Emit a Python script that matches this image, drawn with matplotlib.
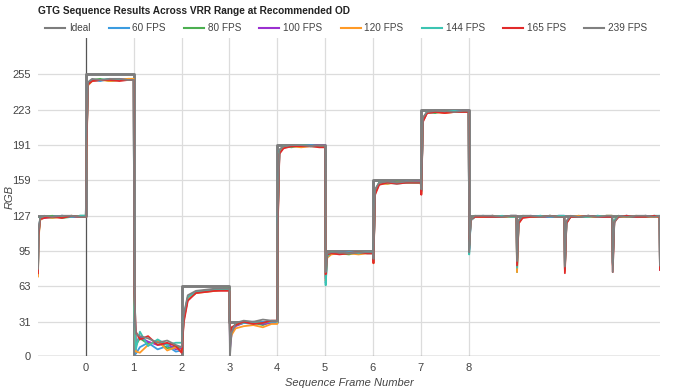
import matplotlib
matplotlib.use("Agg")
import matplotlib.pyplot as plt
import numpy as np

plt.rcParams['font.family'] = ['Liberation Sans', 'DejaVu Sans']

# frame boundaries and sample offsets inside each frame
frames = list(range(-1, 12))
offsets = [0.0, 0.012, 0.045, 0.13, 0.3, 0.5, 0.7, 0.88]
end_x = [11.99, 11.999]

ideal_levels = [127, 255, 0, 63, 31, 191, 95, 159, 223, 127, 127, 127, 127]
ideal_edges = list(range(-1, 13))

labels = ["60 FPS", "80 FPS", "100 FPS", "120 FPS", "144 FPS", "165 FPS", "239 FPS"]
colors = ["#3b9ce0", "#4caf50", "#9b30d0", "#ff9a26", "#3cc4b2", "#e12a2a", "#808080"]

s60 = [
    [74, 108, 124, 126, 125, 127, 126, 127],
    [127, 192, 247, 250, 249, 251, 250, 250],
    [250, 40, 2, 8, 12, 6, 9, 4],
    [5, 9, 36, 53, 58, 59, 60, 60],
    [60, 14, 23, 28, 30, 29, 31, 30],
    [30, 128, 186, 189, 190, 190, 191, 190],
    [190, 66, 90, 93, 94, 93, 93, 94],
    [93, 86, 150, 156, 157, 157, 158, 157],
    [157, 149, 214, 220, 221, 221, 222, 221],
    [221, 96, 123, 126, 127, 126, 126, 127],
    [127, 84, 122, 126, 126, 127, 126, 126],
    [126, 78, 121, 126, 127, 126, 127, 126],
    [126, 84, 123, 126, 127, 126, 126, 127],
]
s60_end = [126, 80]

s80 = [
    [76, 110, 125, 126, 127, 125, 126, 127],
    [127, 188, 246, 250, 251, 249, 250, 251],
    [251, 50, 10, 16, 11, 13, 7, 9],
    [6, 10, 34, 52, 57, 59, 59, 61],
    [61, 16, 24, 29, 31, 30, 28, 31],
    [31, 125, 185, 190, 189, 191, 190, 190],
    [190, 72, 91, 94, 93, 92, 94, 93],
    [93, 87, 149, 157, 156, 158, 157, 157],
    [157, 150, 215, 221, 220, 222, 221, 221],
    [221, 98, 124, 127, 126, 127, 126, 126],
    [126, 76, 121, 127, 126, 126, 127, 126],
    [126, 80, 122, 126, 126, 127, 126, 127],
    [127, 85, 123, 127, 126, 126, 127, 126],
]
s80_end = [126, 79]

s100 = [
    [78, 112, 124, 125, 126, 127, 126, 126],
    [126, 185, 246, 249, 250, 250, 251, 250],
    [250, 55, 12, 17, 13, 10, 11, 6],
    [7, 8, 33, 51, 58, 58, 60, 60],
    [60, 6, 20, 27, 30, 31, 29, 30],
    [30, 122, 184, 189, 190, 190, 190, 191],
    [191, 70, 90, 93, 93, 94, 93, 93],
    [93, 86, 148, 156, 157, 157, 157, 158],
    [158, 149, 213, 220, 221, 221, 221, 222],
    [222, 97, 123, 126, 126, 127, 126, 126],
    [126, 80, 121, 126, 127, 126, 126, 127],
    [127, 79, 122, 126, 126, 127, 126, 126],
    [126, 83, 122, 126, 127, 126, 127, 126],
]
s100_end = [126, 78]

s120 = [
    [72, 106, 123, 126, 125, 126, 127, 126],
    [126, 180, 245, 249, 250, 249, 250, 251],
    [251, 45, 4, 3, 10, 14, 5, 8],
    [4, 8, 32, 52, 57, 58, 59, 60],
    [60, 12, 19, 25, 27, 28, 26, 29],
    [29, 120, 184, 189, 190, 189, 190, 190],
    [190, 68, 89, 92, 93, 93, 92, 93],
    [93, 84, 147, 156, 156, 157, 157, 157],
    [157, 147, 213, 220, 221, 220, 221, 221],
    [221, 99, 123, 126, 126, 127, 126, 126],
    [126, 76, 120, 126, 126, 126, 127, 126],
    [126, 77, 121, 126, 127, 126, 126, 127],
    [127, 82, 122, 126, 126, 127, 126, 126],
]
s120_end = [126, 79]

s144 = [
    [77, 111, 125, 126, 126, 127, 126, 127],
    [127, 190, 247, 250, 250, 251, 250, 250],
    [250, 42, 6, 22, 9, 15, 10, 12],
    [12, 11, 35, 53, 58, 59, 60, 60],
    [60, 15, 24, 28, 30, 31, 30, 31],
    [31, 127, 186, 190, 190, 191, 190, 190],
    [190, 64, 90, 94, 93, 94, 93, 94],
    [94, 87, 150, 157, 157, 156, 157, 157],
    [157, 150, 214, 221, 221, 221, 222, 221],
    [221, 92, 123, 126, 127, 126, 127, 126],
    [126, 80, 122, 126, 126, 127, 126, 127],
    [127, 79, 121, 126, 126, 126, 127, 126],
    [126, 84, 123, 126, 127, 126, 126, 127],
]
s144_end = [127, 80]

s165 = [
    [75, 109, 124, 125, 126, 125, 127, 126],
    [126, 186, 246, 249, 250, 250, 249, 250],
    [250, 58, 22, 15, 18, 10, 12, 9],
    [3, 7, 30, 50, 57, 58, 59, 59],
    [59, 18, 26, 28, 31, 29, 30, 32],
    [32, 118, 183, 188, 190, 190, 190, 189],
    [189, 74, 92, 93, 92, 93, 94, 93],
    [93, 84, 146, 155, 157, 156, 157, 157],
    [157, 146, 212, 220, 221, 220, 221, 221],
    [221, 100, 124, 126, 126, 126, 126, 127],
    [127, 82, 120, 125, 126, 126, 127, 126],
    [126, 75, 120, 126, 126, 127, 126, 126],
    [126, 76, 121, 126, 127, 126, 126, 127],
]
s165_end = [126, 78]

s239 = [
    [79, 113, 125, 127, 126, 127, 127, 126],
    [126, 195, 248, 251, 250, 251, 251, 250],
    [250, 62, 20, 18, 16, 12, 14, 10],
    [8, 12, 37, 55, 59, 60, 61, 61],
    [61, 0, 21, 30, 32, 31, 33, 32],
    [32, 132, 187, 190, 191, 191, 190, 191],
    [191, 76, 93, 94, 94, 93, 94, 94],
    [94, 88, 151, 157, 158, 157, 158, 158],
    [158, 151, 216, 221, 222, 222, 221, 222],
    [222, 94, 124, 127, 127, 127, 126, 127],
    [127, 86, 123, 127, 127, 126, 127, 126],
    [126, 81, 122, 127, 126, 127, 126, 127],
    [127, 76, 121, 127, 126, 127, 127, 126],
]
s239_end = [127, 82]

series = [(s60, s60_end), (s80, s80_end), (s100, s100_end), (s120, s120_end),
          (s144, s144_end), (s165, s165_end), (s239, s239_end)]

x = np.concatenate([f + np.array(offsets) for f in frames] + [np.array(end_x)])

fig = plt.figure(figsize=(6.75, 3.9), dpi=100)
ax = fig.add_axes([38 / 675, 1 - 356 / 390, 622 / 675, 318 / 390])

grid_c = "#dcdcdc"
text_c = "#444444"

yticks = [0, 31, 63, 95, 127, 159, 191, 223, 255]
for yt in yticks[1:]:
    ax.axhline(yt, color=grid_c, lw=0.9, zorder=0)
for xt in range(1, 9):
    ax.axvline(xt, color=grid_c, lw=0.9, zorder=0)
ax.axvline(0, color="#555555", lw=0.9, zorder=1)
ax.axhline(0, color="#555555", lw=0.9, zorder=1)

ideal_line, = ax.step(ideal_edges, ideal_levels + [127], where="post",
                      color="#7d7d7d", lw=2.1, zorder=2, label="Ideal")

handles = [ideal_line]
for (rows, end), lab, c in zip(series, labels, colors):
    y = np.concatenate([np.ravel(rows), end])
    h, = ax.plot(x, y, color=c, lw=1.3, zorder=3, label=lab)
    handles.append(h)

ax.set_xlim(-1, 12)
ax.set_ylim(0, 288)
ax.set_xticks(range(0, 9))
ax.set_yticks(yticks)
ax.tick_params(length=0, labelsize=8, labelcolor=text_c, pad=5)
for s in ax.spines.values():
    s.set_visible(False)

ax.set_xlabel("Sequence Frame Number", fontsize=8, style="italic", color=text_c, labelpad=4)
ax.set_ylabel("RGB", fontsize=8, style="italic", color=text_c)
ax.yaxis.set_label_coords(-0.038, 0.5)

fig.text(38 / 675, 1 - 11 / 390, "GTG Sequence Results Across VRR Range at Recommended OD",
         fontsize=7.3, fontweight="bold", color="#222222", va="center")

leg = fig.legend(handles=handles, labels=["Ideal"] + labels, loc="center left",
                 bbox_to_anchor=(45 / 675, 1 - 28 / 390), ncol=8, frameon=False,
                 fontsize=7.2, handlelength=2.0, handletextpad=0.4, columnspacing=1.8,
                 labelcolor=text_c, borderaxespad=0, borderpad=0)
for lh in leg.get_lines():
    lh.set_linewidth(1.5)

fig.savefig("out.png", dpi=100)
